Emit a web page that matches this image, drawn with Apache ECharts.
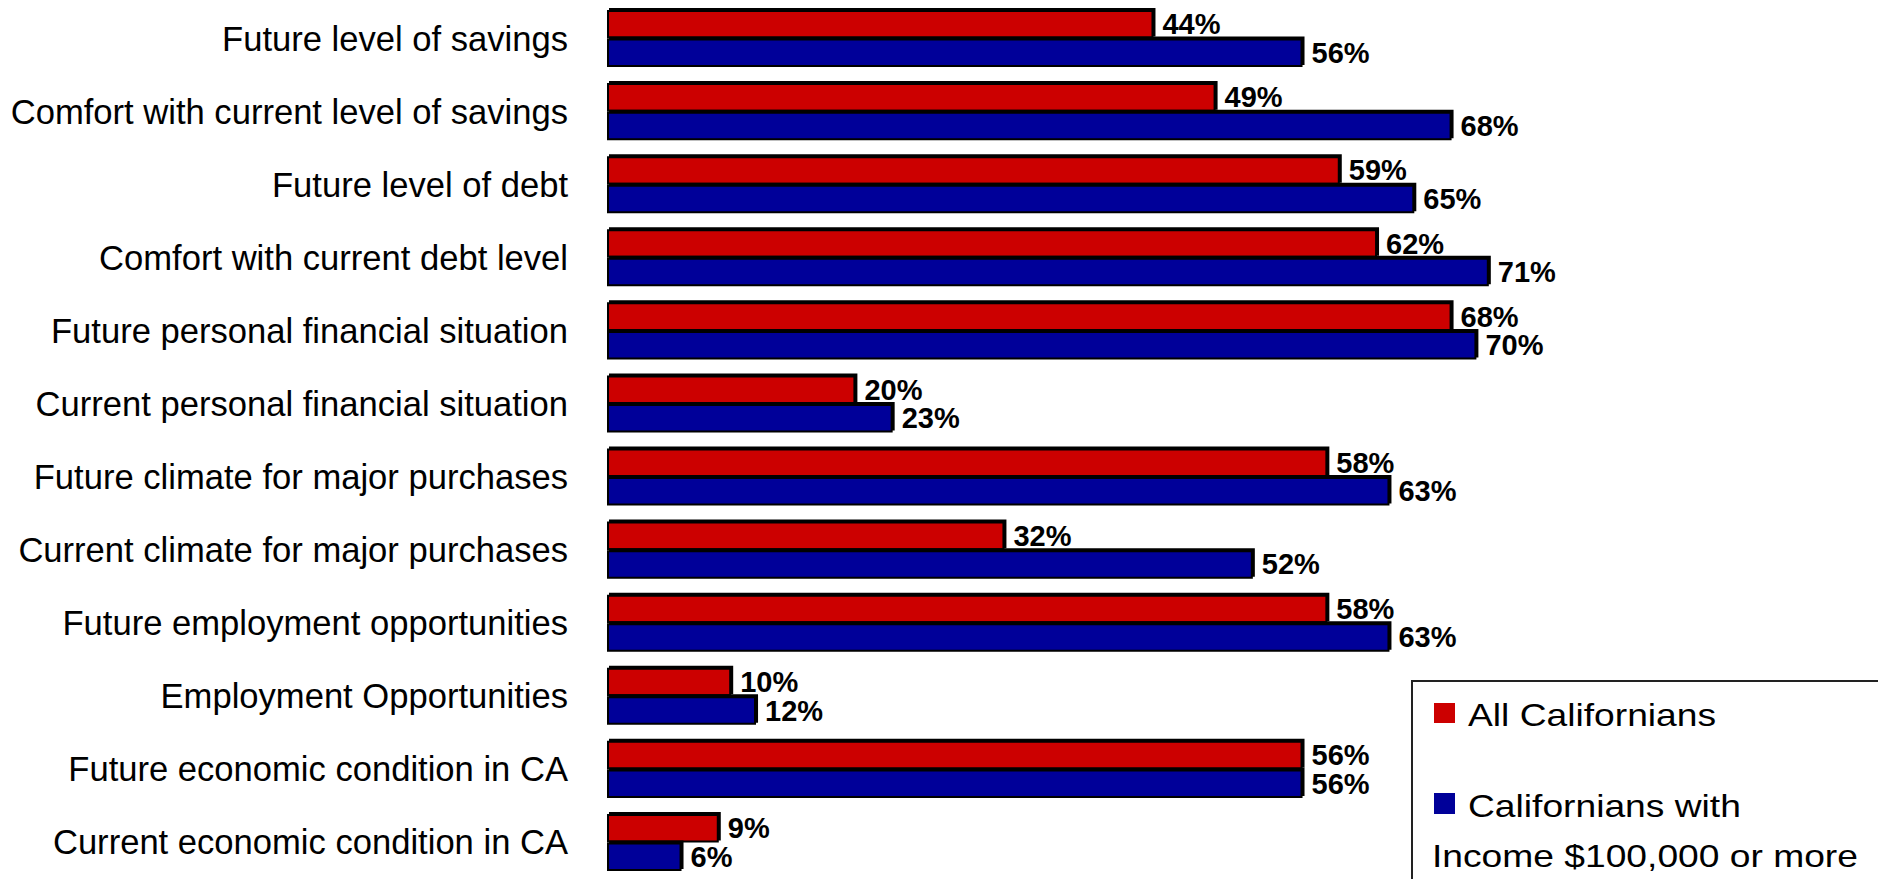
<!DOCTYPE html>
<html>
<head>
<meta charset="utf-8">
<script src="https://cdn.jsdelivr.net/npm/echarts@6/dist/echarts.min.js"></script>
<style>
html,body{margin:0;padding:0;background:#fff;}
#chart{width:1878px;height:879px;}
</style>
</head>
<body>
<div id="chart"></div>
<script>
const categories = [
  'Future level of savings',
  'Comfort with current level of savings',
  'Future level of debt',
  'Comfort with current debt level',
  'Future personal financial situation',
  'Current personal financial situation',
  'Future climate for major purchases',
  'Current climate for major purchases',
  'Future employment opportunities',
  'Employment Opportunities',
  'Future economic condition in CA',
  'Current economic condition in CA'
];
const allCalifornians = [44, 49, 59, 62, 68, 20, 58, 32, 58, 10, 56, 9];
const highIncomeCalifornians = [56, 68, 65, 71, 70, 23, 63, 52, 63, 12, 56, 6];
const seriesNames = ['All Californians', 'Californians with Income $100,000 or more'];
const legendLines = [['All Californians'], ['Californians with', 'Income $100,000 or more']];
const colors = ['#CC0000', '#000099'];

const FONT = "'Liberation Sans', Arial, Helvetica, sans-serif";
const chart = echarts.init(document.getElementById('chart'), null, {renderer: 'svg'});

function barSeries(name, data, color) {
  return {
    name: name,
    type: 'bar',
    data: data,
    barGap: '0%',
    barCategoryGap: '22%',
    itemStyle: {
      color: color,
      borderColor: '#000',
      borderWidth: 2,
      shadowColor: '#000',
      shadowBlur: 0,
      shadowOffsetX: 2,
      shadowOffsetY: -2
    },
    label: {
      show: true,
      position: 'right',
      distance: 9,
      formatter: '{c}%',
      color: '#000',
      fontFamily: FONT,
      fontSize: 29,
      fontWeight: 'bold'
    },
    emphasis: {disabled: true},
    animation: false
  };
}

const option = {
  backgroundColor: '#fff',
  animation: false,
  grid: {left: 607, right: 29, top: 2, bottom: 0, containLabel: false},
  xAxis: {
    type: 'value', min: 0, max: 100, show: false
  },
  yAxis: {
    type: 'category',
    data: categories,
    inverse: true,
    axisLine: {show: false},
    axisTick: {show: false},
    splitLine: {show: false},
    axisLabel: {
      color: '#000',
      fontFamily: FONT,
      fontSize: 34.6,
      margin: 39
    }
  },
  series: [
    barSeries(seriesNames[0], allCalifornians, colors[0]),
    barSeries(seriesNames[1], highIncomeCalifornians, colors[1])
  ],
  graphic: [
    {type: 'rect', shape: {x: 1412, y: 681, width: 520, height: 260},
     style: {fill: '#fff', stroke: '#222', lineWidth: 2}, z: 10},
    {type: 'rect', shape: {x: 1434, y: 703, width: 21, height: 20},
     style: {fill: colors[0]}, z: 11},
    {type: 'text', x: 1468, y: 715, scaleX: 1.2, z: 11,
     style: {text: legendLines[0][0], x: 0, y: 0, fill: '#000', font: '31px ' + FONT,
             textAlign: 'left', textVerticalAlign: 'middle'}},
    {type: 'rect', shape: {x: 1434, y: 793, width: 21, height: 21},
     style: {fill: colors[1]}, z: 11},
    {type: 'text', x: 1468, y: 806, scaleX: 1.2, z: 11,
     style: {text: legendLines[1][0], x: 0, y: 0, fill: '#000', font: '31px ' + FONT,
             textAlign: 'left', textVerticalAlign: 'middle'}},
    {type: 'text', x: 1432, y: 856, scaleX: 1.2, z: 11,
     style: {text: legendLines[1][1], x: 0, y: 0, fill: '#000', font: '31px ' + FONT,
             textAlign: 'left', textVerticalAlign: 'middle'}}
  ]
};
chart.setOption(option);
</script>
</body>
</html>
